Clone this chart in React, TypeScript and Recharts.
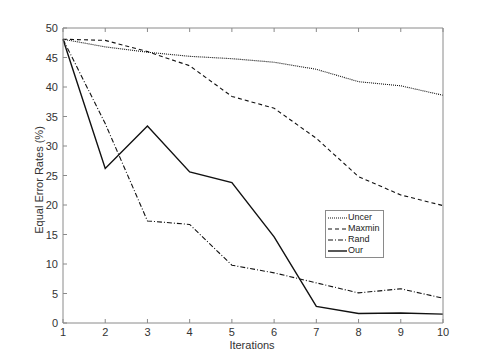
import { LineChart, Line, XAxis, YAxis } from "recharts";

const iterations = [1, 2, 3, 4, 5, 6, 7, 8, 9, 10];
const uncer = [48.1, 46.8, 45.9, 45.2, 44.8, 44.2, 43.0, 40.9, 40.2, 38.6];
const maxmin = [48.1, 47.9, 46.0, 43.6, 38.4, 36.4, 31.3, 24.8, 21.7, 19.9];
const rand = [48.1, 33.8, 17.3, 16.7, 9.8, 8.5, 6.8, 5.1, 5.8, 4.2];
const our = [48.1, 26.2, 33.4, 25.6, 23.8, 14.6, 2.8, 1.6, 1.7, 1.5];

const yTicks = [0, 5, 10, 15, 20, 25, 30, 35, 40, 45, 50];

const data = iterations.map((it, i) => ({
  it,
  uncer: uncer[i],
  maxmin: maxmin[i],
  rand: rand[i],
  our: our[i],
}));

const FONT = "'Liberation Sans', Arial, sans-serif";
const AXIS = "#8a8a8a";
const TXT = "#333";
const TICK = 4;

const series = [
  { key: "uncer", name: "Uncer", dash: "1 1", width: 1.1 },
  { key: "maxmin", name: "Maxmin", dash: "4 3", width: 1.1 },
  { key: "rand", name: "Rand", dash: "5 2 1 2", width: 1.1 },
  { key: "our", name: "Our", dash: undefined, width: 1.4 },
];

const BottomTick = (props: any) => {
  const { x, y, payload } = props;
  return (
    <g>
      <line x1={x} y1={y} x2={x} y2={y - TICK} stroke={AXIS} />
      <text x={x} y={y + 13} textAnchor="middle" fontSize={11} fill={TXT} fontFamily={FONT}>
        {payload.value}
      </text>
    </g>
  );
};

const TopTick = (props: any) => {
  const { x, y } = props;
  return <line x1={x} y1={y} x2={x} y2={y + TICK} stroke={AXIS} />;
};

const LeftTick = (props: any) => {
  const { x, y, payload } = props;
  return (
    <g>
      <line x1={x} y1={y} x2={x + TICK} y2={y} stroke={AXIS} />
      <text x={x - 5} y={y + 4} textAnchor="end" fontSize={11} fill={TXT} fontFamily={FONT}>
        {payload.value}
      </text>
    </g>
  );
};

const RightTick = (props: any) => {
  const { x, y } = props;
  return <line x1={x} y1={y} x2={x - TICK} y2={y} stroke={AXIS} />;
};

const LegendBox = () => (
  <div
    style={{
      position: "absolute",
      left: 325,
      top: 210,
      border: `1px solid ${AXIS}`,
      background: "#fff",
      padding: "1px 3px 1px 2px",
      fontFamily: FONT,
      fontSize: 9,
      color: "#222",
      lineHeight: "11px",
    }}
  >
    {series.map((s) => (
      <div key={s.key} style={{ display: "flex", alignItems: "center" }}>
        <svg width={19} height={11}>
          <line x1={0} y1={6} x2={19} y2={6} stroke="#111" strokeWidth={s.width} strokeDasharray={s.dash} />
        </svg>
        <span style={{ marginLeft: 1 }}>{s.name}</span>
      </div>
    ))}
  </div>
);

export default function App() {
  return (
    <div style={{ position: "absolute", left: 0, top: 0, width: 490, height: 363, background: "#fff" }}>
      <LineChart width={490} height={363} data={data} margin={{ top: 27, right: 46, bottom: 39, left: 62 }}>
        <XAxis
          dataKey="it"
          type="number"
          domain={[1, 10]}
          ticks={iterations}
          height={1}
          tickSize={0}
          tickMargin={0}
          stroke={AXIS}
          tick={BottomTick}
        />
        <XAxis
          xAxisId="top"
          orientation="top"
          dataKey="it"
          type="number"
          domain={[1, 10]}
          ticks={iterations}
          height={1}
          tickSize={0}
          tickMargin={0}
          stroke={AXIS}
          tick={TopTick}
        />
        <YAxis
          type="number"
          domain={[0, 50]}
          ticks={yTicks}
          width={1}
          tickSize={0}
          tickMargin={0}
          stroke={AXIS}
          tick={LeftTick}
        />
        <YAxis
          yAxisId="right"
          orientation="right"
          type="number"
          domain={[0, 50]}
          ticks={yTicks}
          width={1}
          tickSize={0}
          tickMargin={0}
          stroke={AXIS}
          tick={RightTick}
        />
        {series.map((s) => (
          <Line
            key={s.key}
            dataKey={s.key}
            name={s.name}
            stroke="#111"
            strokeWidth={s.width}
            strokeDasharray={s.dash}
            dot={false}
            isAnimationActive={false}
          />
        ))}
        <text x={252} y={349} textAnchor="middle" fontSize={11} fill={TXT} fontFamily={FONT}>
          Iterations
        </text>
        <text
          x={43}
          y={180}
          textAnchor="middle"
          fontSize={11}
          fill={TXT}
          fontFamily={FONT}
          transform="rotate(-90 43 180)"
        >
          Equal Error Rates (%)
        </text>
      </LineChart>
      <LegendBox />
    </div>
  );
}
